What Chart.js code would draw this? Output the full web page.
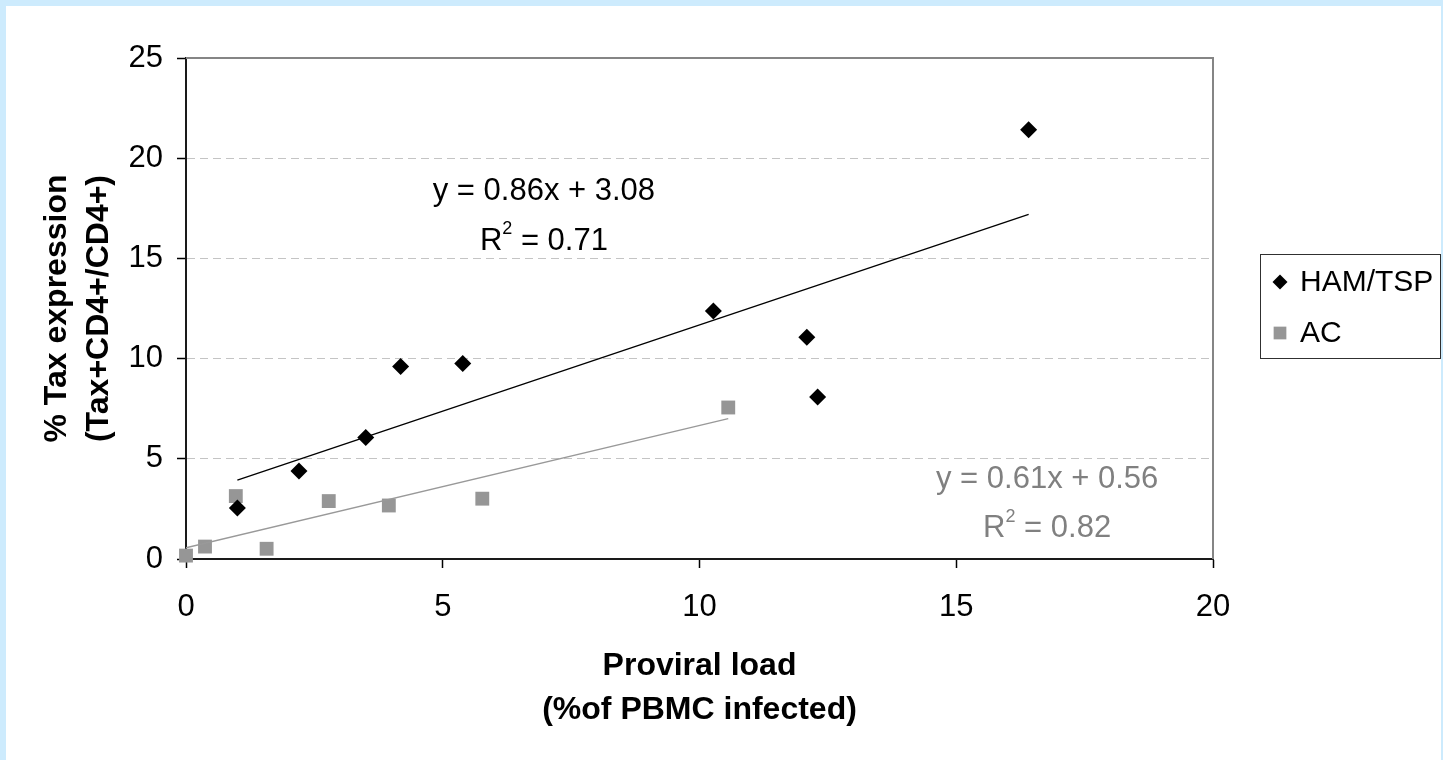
<!DOCTYPE html>
<html>
<head>
<meta charset="utf-8">
<script src="https://cdn.jsdelivr.net/npm/chart.js@4.4.1/dist/chart.umd.min.js"></script>
<style>
  html, body { margin: 0; padding: 0; background: #ffffff; overflow: hidden; }
  #wrap { position: absolute; left: 0; top: 0; width: 1443px; height: 760px; }
</style>
</head>
<body>
<div id="wrap"><canvas id="chart" width="1443" height="760"></canvas></div>
<script>
// Series names
const seriesNames = ['HAM/TSP', 'AC'];

// HAM/TSP patients: proviral load (x) vs Tax expression (y)
const hamX = [1.0, 2.2, 3.5, 4.18, 5.39, 10.27, 12.09, 12.3, 16.41];
const hamY = [2.55, 4.39, 6.06, 9.6, 9.75, 12.37, 11.06, 8.09, 21.42];

// Asymptomatic carriers
const acX = [0, 0.37, 0.97, 1.57, 2.78, 3.95, 5.77, 10.56];
const acY = [0.17, 0.62, 3.14, 0.51, 2.89, 2.67, 3.01, 7.56];

// Linear fits as stated in the equation labels
const hamFit = { slope: 0.86, intercept: 3.08, r2: 0.71 };
const acFit = { slope: 0.61, intercept: 0.56, r2: 0.82 };

// Axis ticks and titles
const xTicks = [0, 5, 10, 15, 20];
const yTicks = [0, 5, 10, 15, 20, 25];
const xTitle = ['Proviral load', '(%of PBMC infected)'];
const yTitle = ['% Tax expression', '(Tax+CD4+/CD4+)'];

const FONT = "'Liberation Sans', Arial, Helvetica, sans-serif";
const HAM_COLOR = '#000000';
const AC_COLOR = '#969696';
const AC_TEXT = '#808080';
const TEXT_SIZE = 31;

function points(xs, ys) {
  return xs.map((x, i) => ({ x: x, y: ys[i] }));
}
function fitLine(fit, xs) {
  const x0 = Math.min(...xs), x1 = Math.max(...xs);
  return [
    { x: x0, y: fit.slope * x0 + fit.intercept },
    { x: x1, y: fit.slope * x1 + fit.intercept }
  ];
}
function eqText(fit) {
  return 'y = ' + fit.slope.toFixed(2) + 'x + ' + fit.intercept.toFixed(2);
}

// Page background with the light blue frame
const backdrop = {
  id: 'backdrop',
  beforeDraw(chart) {
    const ctx = chart.ctx;
    ctx.save();
    ctx.fillStyle = '#cdebfd';
    ctx.fillRect(0, 0, chart.width, chart.height);
    ctx.fillStyle = '#ffffff';
    ctx.fillRect(6, 6, chart.width - 8, chart.height - 6);
    ctx.restore();
  }
};

// Gray frame on the top and right of the plot area
const plotFrame = {
  id: 'plotFrame',
  beforeDatasetsDraw(chart) {
    const { ctx, chartArea: a } = chart;
    ctx.save();
    ctx.strokeStyle = '#858585';
    ctx.lineWidth = 2;
    ctx.beginPath();
    ctx.moveTo(a.left, a.top);
    ctx.lineTo(a.right, a.top);
    ctx.lineTo(a.right, a.bottom);
    ctx.stroke();
    ctx.restore();
  }
};

// Regression equations with superscript R²
function drawR2(ctx, cx, cy, r2, color) {
  const big = TEXT_SIZE + 'px ' + FONT, small = '18px ' + FONT;
  const rest = ' = ' + r2.toFixed(2);
  ctx.font = big;
  const wR = ctx.measureText('R').width;
  const wRest = ctx.measureText(rest).width;
  ctx.font = small;
  const w2 = ctx.measureText('2').width;
  const total = wR + w2 + wRest;
  let x = cx - total / 2;
  ctx.fillStyle = color;
  ctx.textAlign = 'left';
  ctx.textBaseline = 'middle';
  ctx.font = big;
  ctx.fillText('R', x, cy);
  x += wR;
  ctx.font = small;
  ctx.fillText('2', x, cy - 12);
  x += w2;
  ctx.font = big;
  ctx.fillText(rest, x, cy);
}

const equations = {
  id: 'equations',
  afterDatasetsDraw(chart) {
    const { ctx, scales: { x, y } } = chart;
    ctx.save();
    ctx.font = TEXT_SIZE + 'px ' + FONT;
    ctx.textAlign = 'center';
    ctx.textBaseline = 'middle';
    ctx.fillStyle = HAM_COLOR;
    ctx.fillText(eqText(hamFit), x.getPixelForValue(6.97), y.getPixelForValue(18.35));
    drawR2(ctx, x.getPixelForValue(6.97), y.getPixelForValue(15.85), hamFit.r2, HAM_COLOR);
    ctx.font = TEXT_SIZE + 'px ' + FONT;
    ctx.textAlign = 'center';
    ctx.fillStyle = AC_TEXT;
    ctx.fillText(eqText(acFit), x.getPixelForValue(16.77), y.getPixelForValue(3.95));
    drawR2(ctx, x.getPixelForValue(16.77), y.getPixelForValue(1.52), acFit.r2, AC_TEXT);
    ctx.restore();
  }
};

// Boxed legend to the right of the plot
const boxLegend = {
  id: 'boxLegend',
  afterDraw(chart) {
    const ctx = chart.ctx;
    const left = chart.chartArea.right + 47, top = 254, w = 180, h = 104;
    ctx.save();
    ctx.strokeStyle = '#303030';
    ctx.lineWidth = 1;
    ctx.strokeRect(left + 0.5, top + 0.5, w, h);
    const rows = [0, 1].map(i => chart.data.datasets[i]);
    rows.forEach((ds, i) => {
      const cy = top + 28 + i * 51;
      ctx.fillStyle = ds.backgroundColor;
      ctx.strokeStyle = ds.borderColor;
      const r = ds.pointStyle === 'rectRot' ? 7.5 : 9;
      Chart.helpers.drawPoint(ctx, { pointStyle: ds.pointStyle, radius: r, rotation: 0, borderWidth: 0 }, left + 20, cy);
      ctx.fillStyle = '#000000';
      ctx.font = '30px ' + FONT;
      ctx.textAlign = 'left';
      ctx.textBaseline = 'middle';
      ctx.fillText(ds.label, left + 40, cy + 1);
    });
    ctx.restore();
  }
};

new Chart(document.getElementById('chart'), {
  type: 'scatter',
  data: {
    datasets: [
      {
        label: seriesNames[0],
        data: points(hamX, hamY),
        pointStyle: 'rectRot',
        pointRadius: 8.5,
        backgroundColor: HAM_COLOR,
        borderColor: HAM_COLOR,
        pointBorderWidth: 0,
        clip: false,
        order: 2
      },
      {
        label: seriesNames[1],
        data: points(acX, acY),
        pointStyle: 'rect',
        pointRadius: 9.8,
        backgroundColor: AC_COLOR,
        borderColor: AC_COLOR,
        pointBorderWidth: 0,
        clip: false,
        order: 2
      },
      {
        label: 'HAM/TSP fit',
        data: fitLine(hamFit, hamX),
        showLine: true,
        borderColor: '#000000',
        borderWidth: 1.3,
        pointRadius: 0,
        fill: false,
        order: 1
      },
      {
        label: 'AC fit',
        data: fitLine(acFit, acX),
        showLine: true,
        borderColor: '#999999',
        borderWidth: 1.3,
        pointRadius: 0,
        fill: false,
        order: 1
      }
    ]
  },
  options: {
    responsive: false,
    animation: false,
    devicePixelRatio: 1,
    layout: { padding: { top: 58, right: 230, bottom: 0, left: 0 } },
    plugins: {
      legend: { display: false },
      tooltip: { enabled: false }
    },
    scales: {
      x: {
        type: 'linear',
        min: 0,
        max: 20,
        afterBuildTicks(scale) { scale.ticks = xTicks.map(v => ({ value: v })); },
        afterFit(scale) { scale.height = 201; },
        ticks: {
          color: '#000000',
          font: { family: FONT, size: TEXT_SIZE },
          padding: 21,
          maxRotation: 0
        },
        grid: {
          drawOnChartArea: false,
          drawTicks: true,
          tickLength: 9,
          tickColor: '#000000',
          tickWidth: 1.5
        },
        border: { display: true, color: '#1a1a1a', width: 2 },
        title: {
          display: true,
          text: xTitle,
          color: '#000000',
          font: { family: FONT, size: 32, weight: 'bold', lineHeight: 1.375 },
          padding: { top: 0, bottom: 28 }
        }
      },
      y: {
        type: 'linear',
        min: 0,
        max: 25,
        afterBuildTicks(scale) { scale.ticks = yTicks.map(v => ({ value: v })); },
        afterFit(scale) { scale.width = 186; },
        ticks: {
          color: '#000000',
          font: { family: FONT, size: TEXT_SIZE },
          padding: 14
        },
        grid: {
          color: (c) => (c.tick && (c.tick.value === 0 || c.tick.value === 25)) ? 'rgba(0,0,0,0)' : '#c4c4c4',
          lineWidth: 1,
          drawTicks: true,
          tickLength: 9,
          tickColor: '#000000',
          tickWidth: 1.5
        },
        border: { display: true, color: '#1a1a1a', width: 2, dash: [8, 5] },
        title: {
          display: true,
          text: yTitle,
          color: '#000000',
          font: { family: FONT, size: 32, weight: 'bold', lineHeight: 1.31 },
          padding: { top: 36, bottom: 0 }
        }
      }
    }
  },
  plugins: [backdrop, plotFrame, equations, boxLegend]
});
</script>
</body>
</html>
